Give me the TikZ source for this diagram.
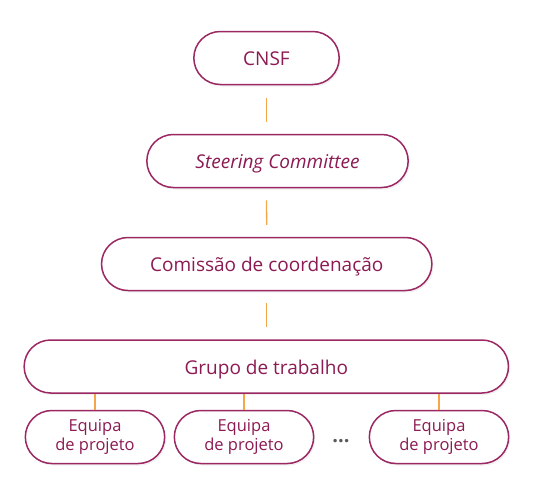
\documentclass[tikz,border=0pt]{standalone}
\usepackage{fontspec}
\setmainfont{Open Sans}
\usetikzlibrary{shadows}

\definecolor{plum}{HTML}{8C1A53}
\definecolor{edge}{HTML}{9B2863}
\definecolor{amber}{HTML}{F5A64A}

\tikzset{
    pill/.style={rounded rectangle, draw=edge, line width=1.5pt, fill=white,
        text=plum, font=\fontsize{19}{21}\selectfont, minimum height=53pt,
        drop shadow={opacity=0.12, shadow xshift=1.5pt, shadow yshift=-2pt}},
    level/.style={pill, text height=16pt, text depth=0.6pt},
    team/.style={pill, minimum width=146pt, align=center,
        font=\fontsize{16.5}{19}\selectfont},
    link/.style={draw=amber, line width=1.3pt}
}
\usetikzlibrary{shapes.misc}

\begin{document}
\begin{tikzpicture}[x=1pt, y=-1pt]
        \useasboundingbox (0,0) rectangle (534,499);

        % Draw nodes
        \node[level, minimum width=152pt] (cnsf) at (266.5,58) {CNSF};
        \node[level, minimum width=268pt] (steer) at (277.5,161) {\itshape Steering Committee};
        \node[level, minimum width=337pt] (comissao) at (266.7,264) {Comissão de coordenação};
        \node[level, minimum width=491pt] (grupo) at (266.3,366.5) {Grupo de trabalho};
        \node[team] (eq1) at (95,437) {Equipa\\de projeto};
        \node[team] (eq2) at (244,437) {Equipa\\de projeto};
        \node[team] (eq3) at (439,437) {Equipa\\de projeto};
        \node[text=black!65, font=\fontsize{20}{22}\selectfont\bfseries] (dots) at (341,441) {...};

        % Draw connections
        \draw[link] ([yshift=-13pt]cnsf.south) -- ([yshift=12pt]cnsf.south |- steer.north);
        \draw[link] ([yshift=-12pt]cnsf.south |- steer.south) -- ([yshift=12pt]comissao.north);
        \draw[link] ([yshift=-12pt]comissao.south) -- ([yshift=12pt]comissao.south |- grupo.north);
        \foreach \t in {eq1, eq2, eq3}
            \draw[link] (\t.north |- grupo.south) -- (\t.north);
    \end{tikzpicture}
\end{document}
